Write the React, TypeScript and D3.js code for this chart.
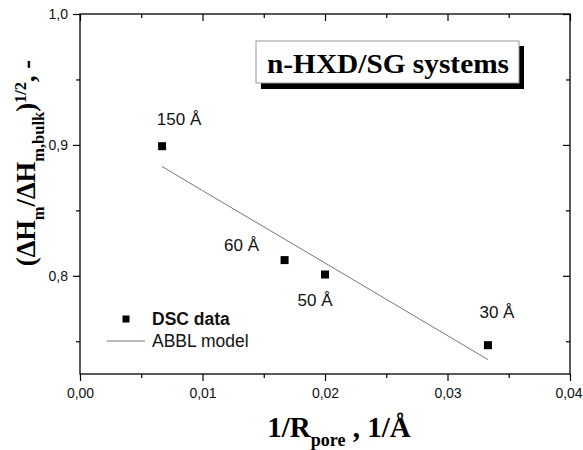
import React, { useRef, useEffect } from "react";
import { select, scaleLinear, axisBottom, axisLeft, line, formatLocale } from "d3";

// 1/R_pore values (1/Å) and measured DSC ratio
const inversePore = [0.0067, 0.0167, 0.02, 0.0333];
const dscValues = [0.899, 0.812, 0.801, 0.747];
const poreLabels = ["150 Å", "60 Å", "50 Å", "30 Å"];

// ABBL model curve
const modelX = [0.0067, 0.01, 0.02, 0.0333];
const modelY = [0.8835, 0.8651, 0.8098, 0.736];

const xMajor = [0, 0.01, 0.02, 0.03, 0.04];
const xMinor = [0.005, 0.015, 0.025, 0.035];
const yMajor = [0.8, 0.9, 1.0];
const yMinor = [0.75, 0.85, 0.95];

const W = 583;
const H = 450;
const left = 80, right = 570, top = 14, bottom = 374;

// label offsets from their point (middle anchor)
const labelOffsets = [[17, -21], [-43, -9], [-10, 31], [9, -27]];

const sans = "'Liberation Sans', Arial, sans-serif";
const serif = "'Liberation Serif', 'Times New Roman', serif";

export default function App() {
    const svgRef = useRef<SVGSVGElement>(null);

    const x = scaleLinear().domain([0, 0.04]).range([left, right]);
    const y = scaleLinear().domain([0.725, 1.0]).range([bottom, top]);

    const comma = formatLocale({ decimal: ",", thousands: ".", grouping: [3], currency: ["", ""] });
    const fx = comma.format(".2f");
    const fy = comma.format(".1f");

    useEffect(() => {
        document.body.style.margin = "0";
        const svg = select(svgRef.current);

        const style = (g: any) => {
            g.attr("font-size", 14).attr("font-family", sans);
            g.select(".domain").remove();
            g.selectAll("line").attr("stroke", "#000").attr("stroke-width", 1.2);
            g.selectAll("text").attr("font-family", sans).attr("font-size", 14).attr("fill", "#111");
        };
        const blank = () => "";

        svg.select(".x-axis").attr("transform", `translate(0,${bottom})`)
            .call(axisBottom(x).tickValues(xMajor).tickSize(7).tickPadding(7).tickFormat((d: any) => fx(d)) as any)
            .call(style);
        // last label sits on the page edge, nudge it in a little
        svg.select(".x-axis").selectAll("text").filter((d: any) => d === 0.04).attr("dx", -1.5);
        svg.select(".x-minor").attr("transform", `translate(0,${bottom})`)
            .call(axisBottom(x).tickValues(xMinor).tickSize(4).tickFormat(blank) as any)
            .call(style);
        svg.select(".x-top").attr("transform", `translate(0,${top})`)
            .call(axisBottom(x).tickValues(xMajor).tickSize(7).tickFormat(blank) as any)
            .call(style);
        svg.select(".x-top-minor").attr("transform", `translate(0,${top})`)
            .call(axisBottom(x).tickValues(xMinor).tickSize(4).tickFormat(blank) as any)
            .call(style);

        svg.select(".y-axis").attr("transform", `translate(${left},0)`)
            .call(axisLeft(y).tickValues(yMajor).tickSize(7).tickPadding(5).tickFormat((d: any) => fy(d)) as any)
            .call(style);
        svg.select(".y-minor").attr("transform", `translate(${left},0)`)
            .call(axisLeft(y).tickValues(yMinor).tickSize(4).tickFormat(blank) as any)
            .call(style);
        svg.select(".y-right").attr("transform", `translate(${right},0)`)
            .call(axisLeft(y).tickValues(yMajor).tickSize(7).tickFormat(blank) as any)
            .call(style);
        svg.select(".y-right-minor").attr("transform", `translate(${right},0)`)
            .call(axisLeft(y).tickValues(yMinor).tickSize(4).tickFormat(blank) as any)
            .call(style);
    }, []);

    const model = line<number>()
        .x((d, i) => x(modelX[i]))
        .y((d) => y(d));

    return (
        <svg ref={svgRef} width={W} height={H} style={{ display: "block", background: "#fff" }}>
            <rect x={0} y={0} width={W} height={H} fill="#fff" />
            <path d={model(modelY) || ""} fill="none" stroke="#777" strokeWidth={1} />

            {inversePore.map((v, i) => (
                <rect key={"p" + i} x={x(v) - 4} y={y(dscValues[i]) - 4} width={8} height={8} fill="#000" />
            ))}
            {inversePore.map((v, i) => (
                <text key={"l" + i} x={x(v) + labelOffsets[i][0]} y={y(dscValues[i]) + labelOffsets[i][1]}
                    textAnchor="middle" fontFamily={sans} fontSize={17} fill="#111">
                    {poreLabels[i]}
                </text>
            ))}

            <rect x={left} y={top} width={right - left} height={bottom - top} fill="none" stroke="#000" strokeWidth={1.3} />
            <g className="x-axis" />
            <g className="x-minor" />
            <g className="x-top" />
            <g className="x-top-minor" />
            <g className="y-axis" />
            <g className="y-minor" />
            <g className="y-right" />
            <g className="y-right-minor" />

            {/* title box */}
            <rect x={261} y={46} width={263} height={43} fill="#000" />
            <rect x={256} y={41} width={263} height={42} fill="#fff" stroke="#999" strokeWidth={1} />
            <text x={388} y={73} textAnchor="middle" fontFamily={serif} fontWeight="bold" fontSize={28}
                textLength={242} lengthAdjust="spacingAndGlyphs" fill="#000">
                n-HXD/SG systems
            </text>

            {/* legend */}
            <rect x={122.5} y={315.5} width={7} height={7} fill="#000" />
            <text x={152} y={325} fontFamily={sans} fontWeight="bold" fontSize={17.5} fill="#111">DSC data</text>
            <line x1={107} x2={145} y1={341} y2={341} stroke="#777" strokeWidth={1} />
            <text x={152} y={347} fontFamily={sans} fontSize={17.5} fill="#111">ABBL model</text>

            {/* axis titles */}
            <text x={339} y={437} textAnchor="middle" fontFamily={serif} fontWeight="bold" fontSize={29} fill="#000">
                1/R<tspan fontSize={18} dy={9}>pore</tspan><tspan dy={-9}> , 1/Å</tspan>
            </text>
            <text transform="translate(35,163) rotate(-90)" textAnchor="middle" fontFamily={serif}
                fontWeight="bold" fontSize={26.5} fill="#000">
                (ΔH<tspan fontSize={16.5} dy={9}>m</tspan><tspan dy={-9}>/ΔH</tspan>
                <tspan fontSize={16.5} dy={9}>m,bulk</tspan><tspan dy={-9}>)</tspan>
                <tspan fontSize={16.5} dy={-9}>1/2</tspan><tspan dy={9}>, -</tspan>
            </text>
        </svg>
    );
}
